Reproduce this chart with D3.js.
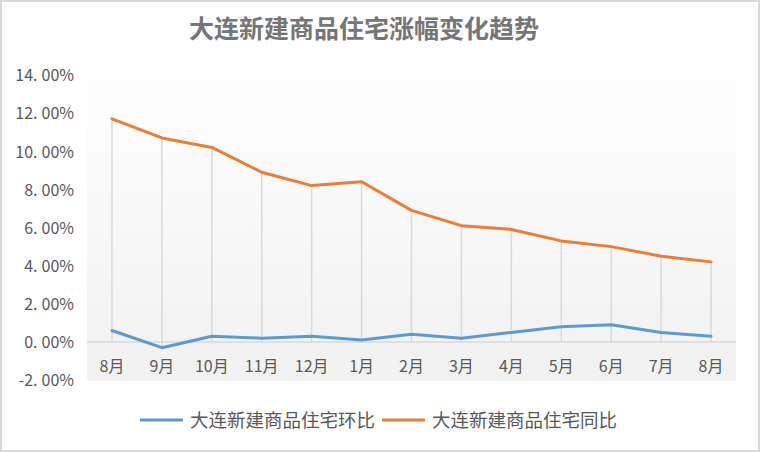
<!DOCTYPE html>
<html>
<head>
<meta charset="utf-8">
<script src="https://cdn.jsdelivr.net/npm/d3@7"></script>
<style>
html,body{margin:0;padding:0;background:#fff;}
svg{display:block;font-family:"Noto Sans CJK SC","Noto Sans",sans-serif;}
</style>
</head>
<body>
<svg id="chart" width="760" height="452"></svg>
<script>
const title = "大连新建商品住宅涨幅变化趋势";
const months = ["8月","9月","10月","11月","12月","1月","2月","3月","4月","5月","6月","7月","8月"];
const seriesNames = ["大连新建商品住宅环比","大连新建商品住宅同比"];
const mom = [0.6,-0.3,0.3,0.2,0.3,0.1,0.4,0.2,0.5,0.8,0.9,0.5,0.3];
const yoy = [11.7,10.7,10.2,8.9,8.2,8.4,6.9,6.1,5.9,5.3,5.0,4.5,4.2];
const yTicks = [-2,0,2,4,6,8,10,12,14];
const colors = ["#5b9bd5","#ed7d31"];

const svg = d3.select("#chart");
const W = 760, H = 452;

// outer border
svg.append("rect").attr("x",1).attr("y",1).attr("width",W-2).attr("height",H-2)
  .attr("fill","#fff").attr("stroke","#d9d9d9").attr("stroke-width",2);

const plot = {left:87, right:736, top:75, bottom:381};

const x = d3.scaleBand().domain(months.map((m,i)=>i)).range([plot.left, plot.right]).padding(0);
const y = d3.scaleLinear().domain([-2,14]).range([380.1,75]);

const defs = svg.append("defs");
const grad = defs.append("linearGradient").attr("id","bg").attr("x1",0).attr("y1",0).attr("x2",0).attr("y2",1);
grad.append("stop").attr("offset","0%").attr("stop-color","#fefefe");
grad.append("stop").attr("offset","100%").attr("stop-color","#f1f1f1");

svg.append("rect").attr("x",plot.left).attr("y",plot.top)
  .attr("width",plot.right-plot.left).attr("height",plot.bottom-plot.top)
  .attr("fill","url(#bg)");
// below-zero band
svg.append("rect").attr("x",plot.left).attr("y",y(0))
  .attr("width",plot.right-plot.left).attr("height",plot.bottom-y(0))
  .attr("fill","#f2f2f2");

const cx = i => x(i) + x.bandwidth()/2;

// drop lines
svg.append("g").selectAll("line").data(months).join("line")
  .attr("x1",(d,i)=>cx(i)).attr("x2",(d,i)=>cx(i))
  .attr("y1",(d,i)=>y(Math.max(yoy[i],mom[i])))
  .attr("y2",(d,i)=>y(Math.min(0,mom[i],yoy[i])))
  .attr("stroke","#d9d9d9").attr("stroke-width",1.5);

// zero axis line
svg.append("line").attr("x1",plot.left).attr("x2",plot.right)
  .attr("y1",y(0)).attr("y2",y(0)).attr("stroke","#d9d9d9").attr("stroke-width",1.5);

// y axis labels
const yAxis = d3.axisLeft(y).tickValues(yTicks).tickSize(0).tickPadding(0);
const gy = svg.append("g").attr("transform","translate(74,0)").call(yAxis);
gy.select(".domain").remove();
gy.selectAll(".tick text").each(function(d){
  const s = d.toFixed(2) + "%";
  const parts = s.split(".");
  const t = d3.select(this).text(null)
    .attr("fill","#595959").attr("font-size",16).attr("text-anchor","end").attr("dy","0.36em")
    .attr("font-family","'Noto Sans CJK SC','Noto Sans',sans-serif");
  t.append("tspan").text(parts[0] + ".");
  t.append("tspan").attr("dx",4).text(parts[1]);
});

// x axis labels
const xAxis = d3.axisBottom(x).tickFormat(i=>months[i]).tickSize(0).tickPadding(0);
const gx = svg.append("g").attr("transform",`translate(0,${y(0)})`).call(xAxis);
gx.select(".domain").remove();
gx.selectAll(".tick text").attr("fill","#595959").attr("font-size",16)
  .attr("y",24).attr("dy","0.36em")
  .attr("font-family","'Noto Sans CJK SC','Noto Sans',sans-serif");

// lines
const line = d3.line().x((d,i)=>cx(i)).y(d=>y(d));
[mom,yoy].forEach((s,k)=>{
  svg.append("path").datum(s).attr("d",line)
    .attr("fill","none").attr("stroke",colors[k]).attr("stroke-width",3)
    .attr("stroke-linejoin","round").attr("stroke-linecap","round");
});

// title
svg.append("text").attr("x",364).attr("y",29).attr("text-anchor","middle")
  .attr("dy","0.36em").attr("font-size",25).attr("font-weight","bold")
  .attr("fill","#767676").text(title);

// legend
const lg = svg.append("g").attr("transform","translate(0,420)");
const legendX = [140, 382];
seriesNames.forEach((n,k)=>{
  const g = lg.append("g").attr("transform",`translate(${legendX[k]},0)`);
  g.append("line").attr("x1",0).attr("x2",43).attr("y1",0).attr("y2",0)
    .attr("stroke",colors[k]).attr("stroke-width",3);
  g.append("text").attr("x",50).attr("dy","0.36em").attr("font-size",18.5)
    .attr("fill","#595959").text(n);
});
</script>
</body>
</html>
